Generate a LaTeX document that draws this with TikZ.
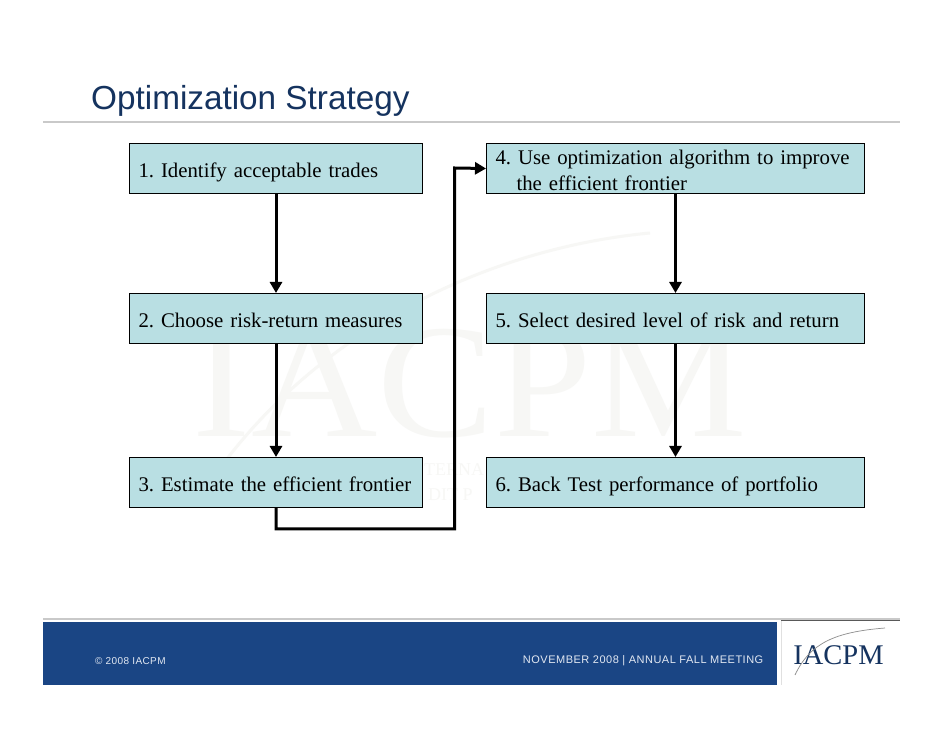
\documentclass[tikz,border=0pt]{standalone}
\usepackage{fontspec}
\setmainfont{Liberation Serif}
\setsansfont{Liberation Sans}
\usetikzlibrary{arrows.meta}
\definecolor{boxfill}{HTML}{B9DFE3}
\definecolor{titleblue}{HTML}{15335F}
\definecolor{bandblue}{HTML}{1A4584}
\definecolor{rulegray}{HTML}{C9C9C9}
\definecolor{markgray}{HTML}{F7F7F5}
\definecolor{foottext}{HTML}{E2E8F2}
\tikzset{
    stepbox/.style={draw=black,fill=boxfill,line width=1pt,anchor=north west,
        minimum height=50pt,inner xsep=9pt,inner ysep=0pt,align=left,text depth=0pt,
        font=\frenchspacing\fontsize{20.8}{26}\selectfont,
        execute at begin node=\strut,execute at end node=\strut},
    flowline/.style={draw=black,line width=3pt,-{Triangle[length=11pt,width=12pt]}}
}
\begin{document}
\begin{tikzpicture}[x=1pt,y=1pt]
    \useasboundingbox (0,0) rectangle (942,728);
    \fill[white] (0,0) rectangle (942,728);
    % watermark
    \node[text=markgray,font=\fontsize{162}{162}\selectfont,xscale=1.08,inner sep=0pt] (watermark) at (470,344.5) {IACPM};
    \node[text=markgray,font=\fontsize{18}{18}\selectfont,anchor=west,inner sep=0pt] (markone) at (424,258) {TERNA};
    \node[text=markgray,font=\fontsize{18}{18}\selectfont,anchor=west,inner sep=0pt] (marktwo) at (428,233) {DIT P};
    \draw[markgray,line width=3pt] (215,253) .. controls (320,400) and (490,480) .. (650,495);
    % title
    \node[text=titleblue,font=\sffamily\fontsize{33.3}{33}\selectfont,anchor=base west,inner sep=0pt] (title) at (91,618) {Optimization Strategy};
    \coordinate (ruleleft) at (43,606);
    \coordinate (ruleright) at (900,606);
    \draw[rulegray,line width=2.5pt] (ruleleft) -- (ruleright);
    % boxes
    \foreach \name/\ypos/\label in {one/585/{1. Identify acceptable trades},two/435/{2. Choose risk-return measures},three/271/{3. Estimate the efficient frontier}}
        \node[stepbox,minimum width=293pt,text width=275pt] (\name) at (129,\ypos) {\label};
    \foreach \name/\ypos/\label in {five/435/{5. Select desired level of risk and return},six/271/{6. Back Test performance of portfolio}}
        \node[stepbox,minimum width=378pt,text width=360pt] (\name) at (486,\ypos) {\label};
    \node[stepbox,minimum width=378pt,text width=360pt,text depth=26.2pt] (four) at (486,585) {4. Use optimization algorithm to improve\\\hspace*{21pt}the efficient frontier};
    % connectors
    \foreach \a/\b in {one/two,two/three,four/five,five/six}
        \draw[flowline] (\a.south) -- (\b.north);
    \draw[flowline] (three.south) -- ++(0,-21) -| (454.5,560) -- (four.west);
    % footer
    \coordinate (footleft) at (43,109);
    \coordinate (footright) at (900,109);
    \draw[rulegray,line width=2pt] (footleft) -- (footright);
    \node[fill=bandblue,minimum width=734pt,minimum height=63pt,anchor=north west,inner sep=0pt] (band) at (43,106) {};
    \node[text=foottext,font=\sffamily\fontsize{10}{10}\selectfont\addfontfeature{LetterSpace=4},anchor=west,inner sep=0pt] (copy) at (95,67) {© 2008 IACPM};
    \node[text=foottext,font=\sffamily\fontsize{11}{11}\selectfont\addfontfeature{LetterSpace=4.5},anchor=east,inner sep=0pt] (meeting) at (763.5,67) {NOVEMBER 2008 | ANNUAL FALL MEETING};
    \coordinate (logotop) at (781,107);
    \coordinate (logoright) at (900,107);
    \coordinate (logobottom) at (781,43);
    \draw[black!65,line width=1pt] (logotop) -- (logoright);
    \draw[black!12,line width=1pt] (logotop) -- (logobottom);
    \node[text=titleblue,font=\fontsize{28.5}{28.5}\selectfont,inner sep=0pt] (logo) at (838.5,73) {IACPM};
    \draw[black!45,line width=.7pt] (795,53) .. controls (810,85) and (835,96) .. (885,100);
\end{tikzpicture}
\end{document}
